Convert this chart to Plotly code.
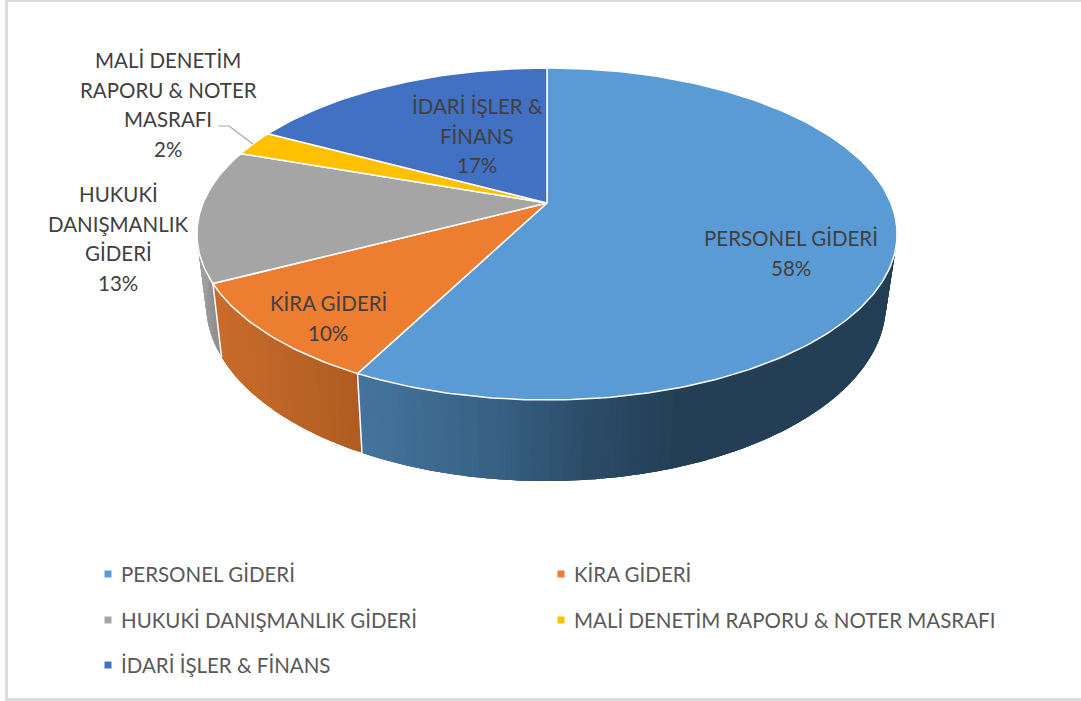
import math
import plotly.graph_objects as go

# ---- data -------------------------------------------------------------
categories = ["PERSONEL GİDERİ", "KİRA GİDERİ", "HUKUKİ DANIŞMANLIK GİDERİ",
              "MALİ DENETİM RAPORU & NOTER MASRAFI", "İDARİ İŞLER & FİNANS"]
values = [57.6, 9.8, 12.9, 2.49, 17.21]
percent_labels = ["58%", "10%", "13%", "2%", "17%"]
colors = ["#5b9bd5", "#ed7d31", "#a5a5a5", "#ffc000", "#4270c2"]
label_lines = [["PERSONEL GİDERİ"], ["KİRA GİDERİ"], ["HUKUKİ", "DANIŞMANLIK", "GİDERİ"],
               ["MALİ DENETİM", "RAPORU & NOTER", "MASRAFI"], ["İDARİ İŞLER &", "FİNANS"]]

# ---- styling / layout --------------------------------------------------
W, H = 1081, 701
FONT = "Lato"
LABEL_SIZE = 20.5
LABEL_POS = [(791, 238), (328, 303), (118, 194), (168, 60), (477, 106)]
LINE_GAP = 29.6
LEGEND_POS = [(108, 574), (561, 574), (108, 620), (561, 620), (108, 665)]
SIDE_STOPS = [
    [(360, "#44749e"), (480, "#3a6488"), (600, "#2a4a66"), (680, "#243f55"), (900, "#243f55")],
    [(215, "#c96c2b"), (362, "#b05c22")],
    [(198, "#a3a3a3"), (222, "#888888")],
    [(0, "#bf9000"), (1081, "#bf9000")],
    [(0, "#2f5597"), (1081, "#2f5597")],
]
K = 0.1867
TOP = dict(cx=547, cy=203, A=343.9, a=160.2)
BOTTOM = dict(cx=546, cy=271, A=334, a=170.8)


def project(frac, plane):
    """Pie fraction (clockwise from the top) -> axis coordinates on a perspective disc."""
    t = 2 * math.pi * frac
    u, v = math.sin(t), math.cos(t)
    w = 1 + K * v
    return plane["cx"] + plane["A"] * u / w, plane["cy"] - plane["a"] * v / w


def mix(stops, x):
    if x <= stops[0][0]:
        return stops[0][1]
    if x >= stops[-1][0]:
        return stops[-1][1]
    for (x0, c0), (x1, c1) in zip(stops, stops[1:]):
        if x0 <= x <= x1:
            f = (x - x0) / (x1 - x0)
            a = [int(c0[i:i + 2], 16) for i in (1, 3, 5)]
            b = [int(c1[i:i + 2], 16) for i in (1, 3, 5)]
            return "rgb(%d,%d,%d)" % tuple(round(p + (q - p) * f) for p, q in zip(a, b))


total = sum(values)
edges = [0.0]
for val in values:
    edges.append(edges[-1] + val / total)

fig = go.Figure()
COMMON = dict(hoverinfo="skip", showlegend=False)

# Side wall: each strip reaches under the next one, so no seams show
for i, val in enumerate(values):
    n = max(4, int(val * 4))
    for j in range(n):
        f0 = edges[i] + (edges[i + 1] - edges[i]) * j / n
        f1 = edges[i] + (edges[i + 1] - edges[i]) * min(j + 3, n) / n
        steps = [f0 + (f1 - f0) * s / 3 for s in range(4)]
        p = [project(s, TOP) for s in steps] + [project(s, BOTTOM) for s in reversed(steps)]
        if max(q[1] for q in p) < 230:
            continue
        col = mix(SIDE_STOPS[i], (project(f0, TOP)[0] + project(f0, BOTTOM)[0]) / 2)
        fig.add_trace(go.Scatter(x=[q[0] for q in p] + [p[0][0]], y=[q[1] for q in p] + [p[0][1]],
                                 mode="none", fill="toself", fillcolor=col, **COMMON))

# White seams on the wall
for e in edges[1:3]:
    a, b = project(e, TOP), project(e, BOTTOM)
    fig.add_trace(go.Scatter(x=[a[0], b[0]], y=[a[1], b[1]], mode="lines",
                             line=dict(color="white", width=1.5), **COMMON))

# Top of the pie
for i, val in enumerate(values):
    n = max(4, int(val * 4))
    rim = [project(edges[i] + (edges[i + 1] - edges[i]) * j / n, TOP) for j in range(n + 1)]
    xs = [TOP["cx"]] + [q[0] for q in rim] + [TOP["cx"]]
    ys = [TOP["cy"]] + [q[1] for q in rim] + [TOP["cy"]]
    fig.add_trace(go.Scatter(x=xs, y=ys, mode="lines", fill="toself", fillcolor=colors[i],
                             line=dict(color="white", width=1.5), **COMMON))

# Leader line of the small slice
fig.add_trace(go.Scatter(x=[218, 229, 253], y=[126, 126, 144], mode="lines",
                         line=dict(color="#a6a6a6", width=1.2), **COMMON))

# Legend keys
fig.add_trace(go.Scatter(x=[p[0] for p in LEGEND_POS], y=[p[1] for p in LEGEND_POS], mode="markers",
                         marker=dict(symbol="square", size=7, color=colors, line=dict(width=0)),
                         **COMMON))

annotations = []
for i, lines in enumerate(label_lines):
    x, y = LABEL_POS[i]
    for j, text in enumerate(lines + [percent_labels[i]]):
        annotations.append(dict(x=x, y=y + j * LINE_GAP, text=text, showarrow=False, xanchor="center",
                                yanchor="middle", font=dict(family=FONT, size=LABEL_SIZE, color="#404040")))
for i, name in enumerate(categories):
    x, y = LEGEND_POS[i]
    annotations.append(dict(x=x + 10.5, y=y, text=name, showarrow=False, xanchor="left", yanchor="middle",
                            font=dict(family=FONT, size=LABEL_SIZE, color="#595959")))

frame = dict(type="line", xref="x", yref="y", line=dict(color="#dcdcdc", width=3), layer="below")
fig.update_layout(
    width=W, height=H, margin=dict(l=0, r=0, t=0, b=0),
    paper_bgcolor="white", plot_bgcolor="white", showlegend=False,
    xaxis=dict(range=[0, W], visible=False, fixedrange=True),
    yaxis=dict(range=[H, 0], visible=False, fixedrange=True),
    annotations=annotations,
    shapes=[dict(frame, x0=6.5, y0=0, x1=6.5, y1=H),
            dict(frame, x0=6.5, y0=0.5, x1=W, y1=0.5),
            dict(frame, x0=6.5, y0=699.5, x1=W, y1=699.5)],
)
fig.write_html("out.html", config=dict(displayModeBar=False),
               post_script="document.body.style.margin='0';document.body.style.overflow='hidden';")
